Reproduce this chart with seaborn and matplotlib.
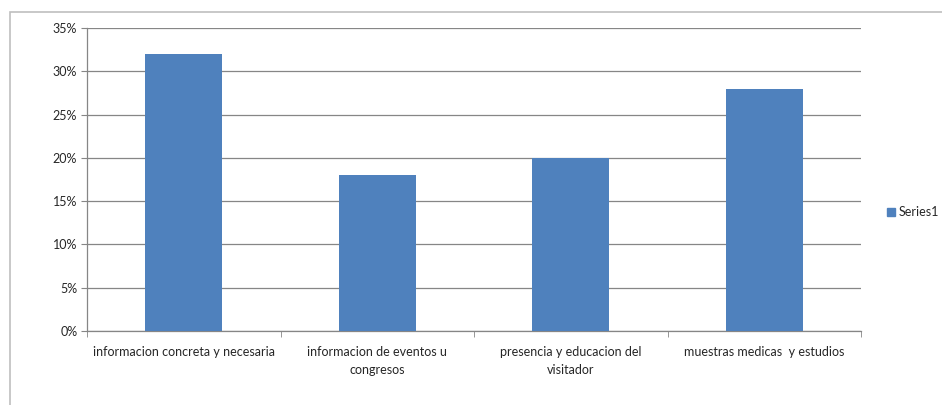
import matplotlib
matplotlib.use("Agg")
import matplotlib.pyplot as plt
import matplotlib.ticker as mticker
from matplotlib.patches import Rectangle
import seaborn as sns
import pandas as pd

categories = [
    "informacion concreta y necesaria",
    "informacion de eventos u\ncongresos",
    "presencia y educacion del\nvisitador",
    "muestras medicas  y estudios",
]
series1 = [0.32, 0.18, 0.20, 0.28]
y_ticks = [0.0, 0.05, 0.10, 0.15, 0.20, 0.25, 0.30, 0.35]

sns.set_style("white")
plt.rcParams["font.family"] = ["Lato", "DejaVu Sans"]

df = pd.DataFrame({"categoria": categories, "valor": series1})

fig = plt.figure(figsize=(9.42, 4.05), dpi=100)
ax = fig.add_axes([87 / 942, 1 - 331 / 405, (861 - 87) / 942, (331 - 28) / 405])

# Chart frame
fig.patches.append(Rectangle((10 / 942, -0.1), 1.2, 1 - 12 / 405 + 0.1,
                             transform=fig.transFigure, fill=False,
                             edgecolor="#BFBFBF", linewidth=1.2, zorder=0))

sns.barplot(data=df, x="categoria", y="valor", color="#4F81BD", width=0.4,
            saturation=1, linewidth=0, ax=ax, zorder=3)

ax.set_xlim(-0.5, 3.5)
ax.set_ylim(0, 0.35)
ax.set_yticks(y_ticks)
ax.yaxis.set_major_formatter(mticker.PercentFormatter(1.0, decimals=0))
ax.grid(axis="y", color="#868686", linewidth=0.9, zorder=0)
ax.set_axisbelow(True)

ax.set_xlabel("")
ax.set_ylabel("")
for s in ["top", "right"]:
    ax.spines[s].set_visible(False)
for s in ["left", "bottom"]:
    ax.spines[s].set_color("#868686")
    ax.spines[s].set_linewidth(0.9)

ax.tick_params(axis="y", length=4, color="#868686", direction="out",
               labelsize=9, pad=3, left=True)
ax.tick_params(axis="x", which="major", length=0, labelsize=9, pad=11)
ax.set_xticks([-0.5, 0.5, 1.5, 2.5, 3.5], minor=True)
ax.tick_params(axis="x", which="minor", length=4, color="#868686",
               direction="out", bottom=True)
for lbl in ax.get_xticklabels():
    lbl.set_linespacing(1.55)

handle = Rectangle((0, 0), 1, 1, color="#4F81BD")
fig.legend([handle], ["Series1"], loc="center left",
           bbox_to_anchor=(882 / 942, 1 - 212 / 405), frameon=False,
           fontsize=9, handlelength=0.6, handleheight=0.6, handletextpad=0.3,
           borderaxespad=0)

fig.savefig("out.png", dpi=100)
